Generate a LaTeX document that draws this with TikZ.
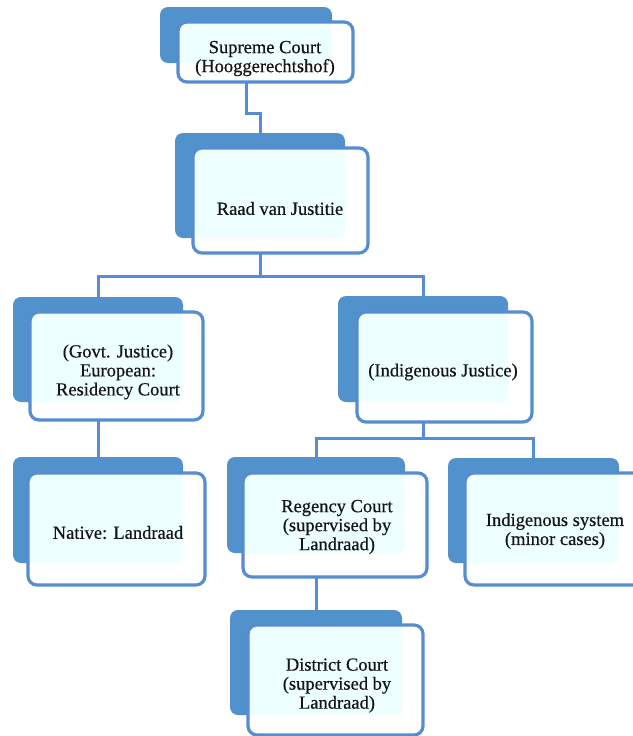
\documentclass[tikz,border=0pt]{standalone}
\usepackage{fontspec}
\setmainfont[FakeBold=0.5]{Liberation Serif}
\usetikzlibrary{fit,backgrounds}
\definecolor{backblue}{RGB}{82,146,204}
\definecolor{lineblue}{RGB}{86,140,210}
\definecolor{paleblue}{RGB}{238,255,255}
\definecolor{txtgray}{RGB}{20,20,20}
\tikzset{
  backbox/.style={fill=backblue, draw=none, rounded corners=8pt, inner sep=0pt},
  frontbox/.style={fill=white, draw=lineblue, line width=3.2pt, rounded corners=9pt, inner sep=0pt},
  txt/.style={align=center, text=txtgray, font=\fontsize{18.5}{19}\selectfont, inner sep=0pt},
  conn/.style={draw=lineblue, line width=3pt}
}
\newcommand\courtbox[7]{%
  \node[backbox, fit={(#2) (#3)}] (#1b) {};
  \node[frontbox, fit={(#4) (#5)},
        path picture={\fill[paleblue, rounded corners=8pt] (path picture bounding box.north west) rectangle (#1b.south east);}] (#1f) {};
  \node[txt] (#1t) at (#6) {#7};
}
\begin{document}
\begin{tikzpicture}[x=1pt,y=-1pt]
\useasboundingbox (0,0) rectangle (632,736);

\courtbox{sc}{160,7}{332,63}{178,22}{353,82}{265,58.5}{Supreme Court\\(Hooggerechtshof)}
\courtbox{raad}{175,133}{345,238}{193,148}{368,253}{280,208.5}{Raad van Justitie}
\courtbox{gov}{13,297}{183,402}{30,312}{203,420}{118,372}{(Govt. Justice)\\European:\\Residency Court}
\courtbox{ind}{338,296}{508,402}{357,312}{532,422}{443,372}{(Indigenous Justice)}
\courtbox{nat}{13,457}{183,563}{28,473}{205,585}{118,532.5}{Native: Landraad}
\courtbox{reg}{227,457}{405,553}{243,473}{427,577}{337,527}{Regency Court\\(supervised by\\Landraad)}
\courtbox{sys}{448,458}{619,563}{465,473}{642,585}{555,531}{Indigenous system\\(minor cases)}
\courtbox{dis}{230,610}{402,715}{248,625}{423,735}{337,685.5}{District Court\\(supervised by\\Landraad)}

\coordinate (j1) at (0,113);
\coordinate (bus1) at (0,276);
\coordinate (bus2) at (0,438);

\begin{pgfonlayer}{background}
\draw[conn] (scb.south) -- (scb.south |- j1) -| (raadb.north);
\draw[conn] (raadb.south) -- (raadb.south |- bus1);
\draw[conn] (govb.north) -- (govb.north |- bus1) -- (indb.north |- bus1) -- (indb.north);
\draw[conn] (govb.south) -- (natb.north);
\draw[conn] (indb.south) -- (indb.south |- bus2);
\draw[conn] (regb.north) -- (regb.north |- bus2) -- (sysb.north |- bus2) -- (sysb.north);
\draw[conn] (regb.south) -- (disb.north);
\end{pgfonlayer}
\end{tikzpicture}
\end{document}
